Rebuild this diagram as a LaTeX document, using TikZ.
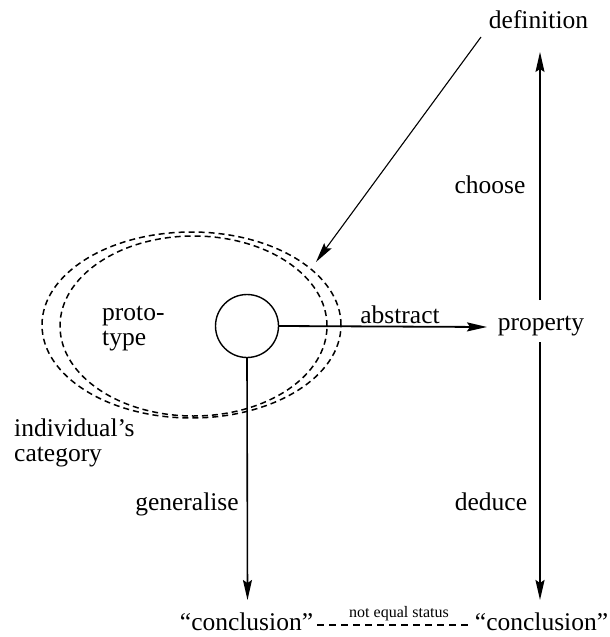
\documentclass[tikz,border=0pt]{standalone}
\usepackage{fontspec}
\setmainfont{Liberation Serif}
\usetikzlibrary{arrows.meta,shapes.geometric}
\begin{document}
\begin{tikzpicture}[x=1pt,y=-1pt,
  txt/.style={font=\fontsize{25.5}{30}\selectfont, inner sep=0pt, anchor=base},
  small/.style={font=\fontsize{16}{18}\selectfont, inner sep=0pt, anchor=base},
  arr/.style={-{Stealth[length=20pt,width=9pt,inset=3pt]}},
  catline/.style={draw, dash pattern=on 6pt off 4pt, line width=1.5pt}]
\useasboundingbox (0,0) rectangle (610,637);
% texts
\node[txt] (def) at (538.5,28) {definition};
\node[txt] (prop) at (541,330) {property};
\node[txt] (choose) at (490,193) {choose};
\node[txt] (deduce) at (491,510) {deduce};
\node[txt] (abs) at (400,323) {abstract};
\node[txt, anchor=base west] (proto) at (102,320) {proto-};
\node[txt, anchor=base west] (type) at (102,345) {type};
\node[txt, anchor=base west] (ind) at (14,436) {individual's};
\node[txt, anchor=base west] (cat) at (14,461) {category};
\node[txt] (gen) at (187,510) {generalise};
\node[txt] (concL) at (246.5,630) {``conclusion''};
\node[txt] (concR) at (541.5,630) {``conclusion''};
\node[small] (neq) at (399,617) {not equal status};
% category ellipses
\node[catline, ellipse, minimum width=299pt, minimum height=186pt, inner sep=0pt] (outer) at (191.5,325) {};
\node[catline, ellipse, minimum width=267pt, minimum height=180pt, inner sep=0pt] (inner) at (193.5,326) {};
% prototype circle
\node[draw, circle, minimum size=63pt, inner sep=0pt, line width=1.4pt] (pt) at (247,326) {};
% coordinates
\coordinate (deftail) at (481,37);
\coordinate (deftip) at (316,262);
\coordinate (pN) at (540,300);
\coordinate (topTip) at (540,52);
\coordinate (pS) at (540,342);
\coordinate (botTipR) at (540,600);
\coordinate (absTip) at (487,327);
\coordinate (botTipL) at (247.5,600);
\coordinate (dA) at (317,625);
\coordinate (dB) at (470,625);
% connectors
\draw[arr, line width=1.1pt] (deftail) -- (deftip);
\draw[arr, line width=1.1pt] (pN) -- (topTip);
\draw[arr, line width=2.2pt] (pS) -- (botTipR);
\draw[arr, line width=1.8pt] (pt.east) -- (absTip);
\draw[arr, line width=1.6pt] (pt.south) -- (botTipL);
\draw[line width=1.6pt, dash pattern=on 7pt off 5pt] (dA) -- (dB);
\end{tikzpicture}
\end{document}
